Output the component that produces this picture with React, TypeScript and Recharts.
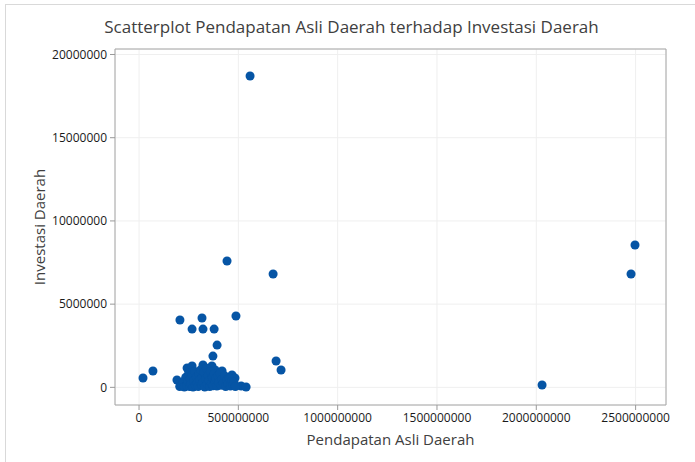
import {
    ScatterChart,
    Scatter,
    XAxis,
    YAxis,
    ZAxis,
    CartesianGrid,
    ReferenceArea,
} from 'recharts';

const titleText = 'Scatterplot Pendapatan Asli Daerah terhadap Investasi Daerah';
const xLabel = 'Pendapatan Asli Daerah';
const yLabel = 'Investasi Daerah';

// values, in millions
const pad = [
    20, 70, 206, 317, 488, 267, 322, 378, 393, 372, 690, 715, 514, 539, 443, 675, 559, 2497, 2477, 2029,
    191, 242, 267, 322, 367, 383, 418, 468, 483,
    205, 215, 222, 228, 235, 240, 246, 250, 255, 258, 262, 268, 272, 276, 280, 284, 289, 293, 298, 302,
    306, 310, 314, 318, 322, 327, 331, 335, 339, 343, 348, 352, 356, 360, 364, 369, 373, 378, 382, 387,
    392, 397, 402, 408, 413, 418, 424, 430, 436, 442, 448, 455, 460, 466, 472, 478, 485,
];
const investasi = [
    0.56, 0.98, 4.05, 4.17, 4.29, 3.5, 3.5, 3.5, 2.54, 1.88, 1.58, 1.04, 0.08, 0.02, 7.59, 6.81, 18.71, 8.55, 6.81, 0.14,
    0.44, 1.16, 1.28, 1.34, 1.28, 1.04, 0.98, 0.74, 0.56,
    0.05, 0.15, 0.3, 0.02, 0.6, 0.1, 0.35, 0.85, 0.05, 0.5, 0.2, 0.75, 0.02, 0.4, 0.95, 0.12, 0.6, 0.28, 0.05, 0.8,
    0.45, 1.05, 0.15, 0.6, 0.3, 0.9, 0.02, 0.5, 1.15, 0.2, 0.7, 0.4, 0.05, 0.95, 0.25, 0.6, 0.1, 0.8, 0.35, 0.55,
    0.08, 0.7, 0.3, 0.85, 0.12, 0.5, 0.25, 0.7, 0.05, 0.45, 0.2, 0.55, 0.08, 0.35, 0.15, 0.3, 0.05,
];

const xTicks = [0, 500000000, 1000000000, 1500000000, 2000000000, 2500000000];
const yTicks = [0, 5000000, 10000000, 15000000, 20000000];
const xDomain = [-121000000, 2653000000];
const yDomain = [-1060000, 20330000];

const data = pad.map((p, i) => ({ x: p * 1000000, y: investasi[i] * 1000000 }));

const font = '"Open Sans", "Noto Sans", sans-serif';
const tickStyle = { fill: '#1a1a1a', fontSize: 12, fontFamily: font };

export default function App() {
    return (
        <div style={{ position: 'absolute', left: 0, top: 0, width: 695, height: 462, background: '#fff', overflow: 'hidden' }}>
            <div
                style={{
                    position: 'absolute',
                    left: 5,
                    top: 4,
                    width: 720,
                    height: 480,
                    borderLeft: '1px solid #d9d9d9',
                    borderTop: '1px solid #d9d9d9',
                }}
            />
            <div
                style={{
                    position: 'absolute',
                    left: 4,
                    top: 15,
                    width: 695,
                    textAlign: 'center',
                    fontFamily: font,
                    fontSize: 17,
                    color: '#404040',
                }}
            >
                {titleText}
            </div>
            <ScatterChart
                width={695}
                height={462}
                margin={{ top: 49, right: 29, left: 35, bottom: 12 }}
                style={{ position: 'absolute', left: 0, top: 0 }}
            >
                <CartesianGrid stroke="#efefef" strokeWidth={1} />
                <XAxis
                    type="number"
                    dataKey="x"
                    domain={xDomain}
                    ticks={xTicks}
                    allowDataOverflow
                    height={45}
                    axisLine={false}
                    tickLine={{ stroke: '#999' }}
                    tickSize={5}
                    tickMargin={3}
                    tick={tickStyle}
                    label={{
                        value: xLabel,
                        position: 'insideBottom',
                        offset: 5,
                        style: { fill: '#404040', fontSize: 15, fontFamily: font },
                    }}
                />
                <YAxis
                    type="number"
                    dataKey="y"
                    domain={yDomain}
                    ticks={yTicks}
                    allowDataOverflow
                    width={80}
                    axisLine={false}
                    tickLine={{ stroke: '#999' }}
                    tickSize={5}
                    tickMargin={3}
                    tick={tickStyle}
                    label={{
                        value: yLabel,
                        angle: -90,
                        position: 'insideLeft',
                        offset: 5,
                        style: { fill: '#404040', fontSize: 15, fontFamily: font, textAnchor: 'middle' },
                    }}
                />
                <ZAxis range={[90, 90]} />
                <ReferenceArea
                    x1={xDomain[0]}
                    x2={xDomain[1]}
                    y1={yDomain[0]}
                    y2={yDomain[1]}
                    fill="none"
                    fillOpacity={0}
                    stroke="#a6a6a6"
                    strokeWidth={1}
                    ifOverflow="visible"
                />
                <Scatter data={data} fill="#0655a5" isAnimationActive={false} />
            </ScatterChart>
        </div>
    );
}
